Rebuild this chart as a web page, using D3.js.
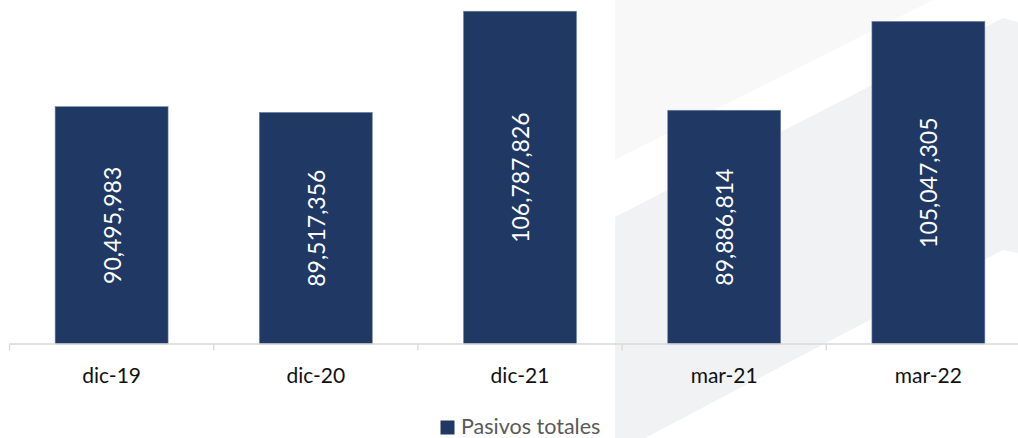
<!DOCTYPE html>
<html>
<head>
<meta charset="utf-8">
<script src="https://cdn.jsdelivr.net/npm/d3@7"></script>
<style>
  html, body { margin: 0; padding: 0; background: #ffffff; }
  svg { display: block; }
</style>
</head>
<body>
<svg id="chart" width="1018" height="438"></svg>
<script>
const categories = ["dic-19", "dic-20", "dic-21", "mar-21", "mar-22"];
const values = [90495983, 89517356, 106787826, 89886814, 105047305];
const seriesName = "Pasivos totales";

const W = 1018, H = 438;
const svg = d3.select("#chart");
const FONT = "Lato, 'Open Sans', 'DejaVu Sans', sans-serif";

// background watermark shapes
const bg = svg.append("g");
bg.append("polygon")
  .attr("points", [[615,0],[933,0],[615,160]].map(p => p.join(",")).join(" "))
  .attr("fill", "#f8f8f9");
bg.append("polygon")
  .attr("points", [[615,217],[1003,18],[1018,22],[1018,253],[1003,250],[645,438],[615,438]].map(p => p.join(",")).join(" "))
  .attr("fill", "#f1f2f4");

const x = d3.scaleBand().domain(categories).range([9.5, 9.5 + 5 * 204.2]).padding(0);
const y = d3.scaleLinear().domain([50e6, 110e6]).range([344, -7.6]);
const barW = x.bandwidth() * 0.553;

// bars
svg.append("g").selectAll("rect")
  .data(values)
  .join("rect")
  .attr("x", (d, i) => x(categories[i]) + (x.bandwidth() - barW) / 2)
  .attr("y", d => y(d))
  .attr("width", barW)
  .attr("height", d => y.range()[0] - y(d))
  .attr("fill", "#203864")
  .attr("stroke", "#6d80a6")
  .attr("stroke-width", 0.6);

// axis line and boundary ticks
const axisG = svg.append("g").attr("transform", `translate(0,${y.range()[0]})`);
axisG.call(d3.axisBottom(x).tickSize(0).tickPadding(0).tickFormat(""));
axisG.select(".domain").attr("stroke", "#d9d9d9").attr("stroke-width", 1.3).attr("d", `M${x.range()[0]},0H${W + 20}`);
const bounds = categories.map(c => x(c)).concat([x.range()[1]]);
axisG.selectAll("line.bt").data(bounds).join("line")
  .attr("class", "bt")
  .attr("x1", d => d).attr("x2", d => d)
  .attr("y1", 0).attr("y2", 6.5)
  .attr("stroke", "#d9d9d9").attr("stroke-width", 1.3);

// category labels
svg.append("g").selectAll("text")
  .data(categories)
  .join("text")
  .attr("x", d => x(d) + x.bandwidth() / 2)
  .attr("y", 383)
  .attr("text-anchor", "middle")
  .attr("font-family", FONT)
  .attr("font-size", 21)
  .attr("fill", "#111111")
  .text(d => d);

// value labels
const fmt = d3.format(",");
svg.append("g").selectAll("text")
  .data(values)
  .join("text")
  .attr("transform", (d, i) => {
    const cx = x(categories[i]) + x.bandwidth() / 2;
    const cy = (y(d) + y.range()[0]) / 2;
    return `translate(${cx},${cy}) rotate(-90)`;
  })
  .attr("text-anchor", "middle")
  .attr("dominant-baseline", "central")
  .attr("font-family", FONT)
  .attr("font-size", 23)
  .attr("fill", "#ffffff")
  .text(d => fmt(d));

// legend
const lg = svg.append("g");
lg.append("rect").attr("x", 440.5).attr("y", 420.5).attr("width", 14).attr("height", 14).attr("fill", "#203864");
lg.append("text").attr("x", 461).attr("y", 434)
  .attr("font-family", FONT).attr("font-size", 21.5).attr("fill", "#595959")
  .text(seriesName);
</script>
</body>
</html>
